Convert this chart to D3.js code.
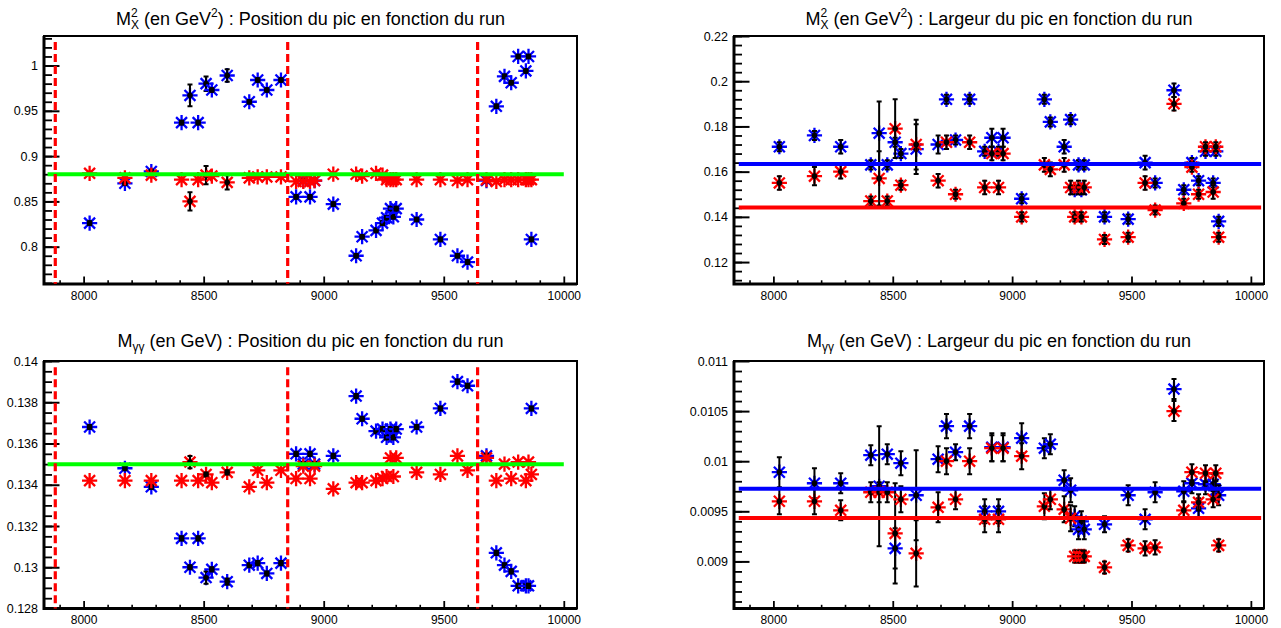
<!DOCTYPE html>
<html>
<head>
<meta charset="utf-8">
<script src="https://cdn.jsdelivr.net/npm/d3@7"></script>
<style>
  body { margin: 0; background: #fff; }
  svg { display: block; }
  text { font-family: "Liberation Sans", Arial, Helvetica, sans-serif; fill: #000; }
</style>
</head>
<body>
<div id="chart"></div>
<script>
// run numbers shared by the four graphs
const runs = [8025, 8172, 8282, 8408, 8443, 8477, 8510, 8534, 8598, 8690,
              8725, 8763, 8822, 8885, 8915, 8943, 8962, 9040, 9135, 9160,
              9218, 9245, 9262, 9278, 9290, 9302, 9387, 9486, 9557, 9599,
              9678, 9719, 9753, 9781, 9810, 9842, 9853, 9865];

// Mx2 : position du pic
const mx2PosBlue = [0.826, 0.870, 0.883, 0.937, 0.967, 0.937, 0.980, 0.973, 0.989, 0.960,
                    0.984, 0.973, 0.984, 0.855, 0.873, 0.855, 0.873, 0.847, 0.790, 0.811,
                    0.818, 0.826, 0.832, 0.842, 0.833, 0.842, 0.830, 0.808, 0.790, 0.783,
                    0.873, 0.955, 0.988, 0.981, 1.010, 0.994, 1.010, 0.808];
const mx2PosBlueErr = [0.002, 0.002, 0.002, 0.002, 0.012, 0.002, 0.008, 0.002, 0.007, 0.002,
                       0.002, 0.002, 0.002, 0.002, 0.002, 0.002, 0.002, 0.002, 0.002, 0.002,
                       0.002, 0.002, 0.002, 0.002, 0.002, 0.002, 0.002, 0.002, 0.002, 0.002,
                       0.002, 0.002, 0.002, 0.002, 0.002, 0.002, 0.002, 0.002];
const mx2PosRed = [0.881, 0.876, 0.879, 0.874, 0.850, 0.874, 0.879, 0.878, 0.871, 0.876,
                   0.877, 0.877, 0.877, 0.872, 0.872, 0.872, 0.873, 0.880, 0.880, 0.878,
                   0.881, 0.879, 0.874, 0.874, 0.874, 0.874, 0.874, 0.874, 0.873, 0.874,
                   0.874, 0.872, 0.874, 0.874, 0.874, 0.874, 0.874, 0.874];
const mx2PosRedErr = [0, 0, 0, 0, 0.010, 0, 0.010, 0, 0.008, 0,
                      0, 0, 0, 0, 0, 0, 0, 0, 0, 0,
                      0, 0, 0, 0, 0, 0, 0, 0, 0, 0,
                      0, 0, 0, 0, 0, 0, 0, 0];

// Mx2 : largeur du pic
const mx2WidBlue = [0.171, 0.176, 0.171, 0.163, 0.177, 0.163, 0.173, 0.168, 0.170, 0.172,
                    0.192, 0.174, 0.192, 0.169, 0.175, 0.169, 0.175, 0.148, 0.192, 0.182,
                    0.171, 0.183, 0.152, 0.163, 0.152, 0.163, 0.140, 0.139, 0.164, 0.155,
                    0.196, 0.152, 0.164, 0.156, 0.169, 0.155, 0.169, 0.138];
const mx2WidBlueErr = [0.002, 0.002, 0.003, 0.002, 0.014, 0.002, 0.002, 0.002, 0.011, 0.004,
                       0.002, 0.002, 0.002, 0.002, 0.004, 0.002, 0.004, 0.002, 0.002, 0.002,
                       0.003, 0.002, 0.002, 0.002, 0.002, 0.002, 0.002, 0.002, 0.003, 0.002,
                       0.003, 0.002, 0.002, 0.002, 0.002, 0.002, 0.002, 0.002];
const mx2WidRed = [0.155, 0.158, 0.160, 0.147, 0.157, 0.147, 0.179, 0.154, 0.172, 0.156,
                   0.173, 0.150, 0.173, 0.153, 0.168, 0.153, 0.168, 0.140, 0.163, 0.161,
                   0.163, 0.153, 0.140, 0.153, 0.140, 0.153, 0.130, 0.131, 0.155, 0.143,
                   0.190, 0.146, 0.162, 0.150, 0.171, 0.151, 0.171, 0.131];
const mx2WidRedErr = [0.003, 0.004, 0.003, 0.002, 0.012, 0.002, 0.013, 0.002, 0.011, 0.003,
                      0.003, 0.002, 0.003, 0.003, 0.003, 0.003, 0.003, 0.002, 0.003, 0.003,
                      0.003, 0.003, 0.002, 0.003, 0.002, 0.003, 0.002, 0.002, 0.003, 0.002,
                      0.003, 0.002, 0.002, 0.002, 0.002, 0.003, 0.002, 0.002];

// Mgg : position du pic
const mggPosBlue = [0.1368, 0.1348, 0.1339, 0.1314, 0.1300, 0.1314, 0.1295, 0.1299, 0.1293, 0.1301,
                    0.1302, 0.1297, 0.1302, 0.1355, 0.1350, 0.1355, 0.1350, 0.1354, 0.1383, 0.1372,
                    0.1366, 0.1367, 0.1363, 0.1367, 0.1363, 0.1367, 0.1368, 0.1377, 0.1390, 0.1388,
                    0.1354, 0.1307, 0.1301, 0.1298, 0.1291, 0.1291, 0.1291, 0.1377];
const mggPosBlueErr = [0.0001, 0.0001, 0.0001, 0.0001, 0.0001, 0.0001, 0.0003, 0.0001, 0.00015, 0.0001,
                       0.0001, 0.0001, 0.0001, 0.0001, 0.0001, 0.0001, 0.0001, 0.0001, 0.0001, 0.0001,
                       0.0001, 0.0001, 0.0001, 0.0001, 0.0001, 0.0001, 0.0001, 0.0001, 0.0001, 0.0001,
                       0.0001, 0.0001, 0.0001, 0.0001, 0.0001, 0.0001, 0.0001, 0.0001];
const mggPosRed = [0.1342, 0.1342, 0.1342, 0.1342, 0.1351, 0.1342, 0.1345, 0.1341, 0.1346, 0.1339,
                   0.1347, 0.1341, 0.1347, 0.1343, 0.1349, 0.1343, 0.1349, 0.1338, 0.1341, 0.1341,
                   0.1342, 0.1343, 0.1344, 0.1353, 0.1344, 0.1353, 0.1346, 0.1345, 0.1354, 0.1347,
                   0.1353, 0.1342, 0.1350, 0.1343, 0.1351, 0.1342, 0.1351, 0.1345];
const mggPosRedErr = [0, 0, 0, 0, 0.0003, 0, 0.0001, 0, 0.0001, 0,
                      0, 0, 0, 0, 0, 0, 0, 0, 0, 0,
                      0, 0, 0, 0, 0, 0, 0, 0, 0, 0,
                      0, 0, 0, 0, 0, 0, 0, 0];

// Mgg : largeur du pic
const mggWidBlue = [0.00989, 0.00978, 0.00978, 0.01006, 0.00975, 0.01007, 0.00913, 0.00998, 0.00966, 0.01002,
                    0.01035, 0.01009, 0.01035, 0.00950, 0.01014, 0.00950, 0.01014, 0.01023, 0.01013, 0.01017,
                    0.00981, 0.00971, 0.00945, 0.00932, 0.00940, 0.00932, 0.00937, 0.00966, 0.00942, 0.00969,
                    0.01072, 0.00970, 0.00978, 0.00953, 0.00977, 0.00977, 0.00971, 0.00966];
const mggWidBlueErr = [0.00015, 0.00015, 0.0001, 0.0001, 0.0006, 0.0001, 0.0002, 0.00012, 0.00045, 0.00013,
                       0.00012, 0.00008, 0.00012, 0.00012, 0.00014, 0.00012, 0.00014, 0.00015, 0.0001, 0.0001,
                       0.0001, 0.00012, 0.0001, 0.0001, 0.0001, 0.0001, 0.00008, 0.0001, 0.0001, 0.0001,
                       0.0001, 0.0001, 0.0001, 0.0001, 0.0001, 0.0001, 0.0001, 0.0001];
const mggWidRed = [0.00960, 0.00960, 0.00951, 0.00969, 0.00969, 0.00969, 0.00928, 0.00962, 0.00908, 0.00954,
                   0.01000, 0.00962, 0.01000, 0.00942, 0.01013, 0.00942, 0.01013, 0.01005, 0.00955, 0.00962,
                   0.00952, 0.00943, 0.00905, 0.00905, 0.00905, 0.00905, 0.00894, 0.00916, 0.00913, 0.00914,
                   0.01050, 0.00951, 0.00989, 0.00959, 0.00988, 0.00962, 0.00988, 0.00916];
const mggWidRedErr = [0.00013, 0.00013, 0.0001, 0.0001, 0.0001, 0.0001, 0.0005, 0.00013, 0.00033, 0.00015,
                      0.00013, 0.0001, 0.00013, 0.00013, 0.00013, 0.00013, 0.00013, 0.00013, 0.00013, 0.0001,
                      0.00013, 0.00013, 0.00006, 0.00006, 0.00006, 0.00006, 0.00006, 0.00006, 0.00007, 0.00007,
                      0.0001, 0.00008, 0.00008, 0.00008, 0.00008, 0.00008, 0.00008, 0.00006];

// reference / fitted levels
const mx2PosRef = 0.88, mggPosRef = 0.135;
const mx2WidFit = [0.1634, 0.1441];      // blue, red
const mggWidFit = [0.009725, 0.009433];  // blue, red
const fitSpanLeft = [7850, 10000];
const fitSpanRight = [7855, 10043];

// run period boundaries (dashed lines)
const cutRuns = [7882, 8850, 9641];
const cutSpanMx2 = [0.759, 1.026];
const cutSpanMgg = [0.128, 0.1397];

// axes
const xDomain = [7835, 10055];
const xTicks = [8000, 8500, 9000, 9500, 10000];
const yTicksMx2Pos = [0.8, 0.85, 0.9, 0.95, 1];
const yTicksMx2Wid = [0.12, 0.14, 0.16, 0.18, 0.2, 0.22];
const yTicksMggPos = [0.128, 0.13, 0.132, 0.134, 0.136, 0.138, 0.14];
const yTicksMggWid = [0.009, 0.0095, 0.01, 0.0105, 0.011];

const BLUE = "#0000ff", RED = "#ff0000", GREEN = "#00ff00";

const svg = d3.select("#chart").append("svg")
    .attr("width", 1281)
    .attr("height", 628);

const panels = [
  { left: 44, right: 577, top: 36, bottom: 284, titleY: 25, yDomain: [0.7588, 1.0326],
    yTicks: yTicksMx2Pos, yMinor: 0.01, title: "mx2", what: "Position",
    blue: mx2PosBlue, blueErr: mx2PosBlueErr, red: mx2PosRed, redErr: mx2PosRedErr,
    fits: [{ v: mx2PosRef, c: GREEN }], fitSpan: fitSpanLeft, cuts: cutSpanMx2 },
  { left: 734, right: 1264, top: 36, bottom: 284, titleY: 25, yDomain: [0.1103, 0.22],
    yTicks: yTicksMx2Wid, yMinor: 0.004, title: "mx2", what: "Largeur",
    blue: mx2WidBlue, blueErr: mx2WidBlueErr, red: mx2WidRed, redErr: mx2WidRedErr,
    fits: [{ v: mx2WidFit[0], c: BLUE }, { v: mx2WidFit[1], c: RED }], fitSpan: fitSpanRight },
  { left: 44, right: 577, top: 361, bottom: 608.5, titleY: 347, yDomain: [0.128, 0.14],
    yTicks: yTicksMggPos, yMinor: 0.0005, title: "mgg", what: "Position",
    blue: mggPosBlue, blueErr: mggPosBlueErr, red: mggPosRed, redErr: mggPosRedErr,
    fits: [{ v: mggPosRef, c: GREEN }], fitSpan: fitSpanLeft, cuts: cutSpanMgg },
  { left: 734, right: 1264, top: 361, bottom: 608.5, titleY: 347, yDomain: [0.00853, 0.011],
    yTicks: yTicksMggWid, yMinor: 0.0001, title: "mgg", what: "Largeur",
    blue: mggWidBlue, blueErr: mggWidBlueErr, red: mggWidRed, redErr: mggWidRedErr,
    fits: [{ v: mggWidFit[0], c: BLUE }, { v: mggWidFit[1], c: RED }], fitSpan: fitSpanRight }
];

// ROOT style "*" marker
function star(r) {
  const d = r * 0.72;
  return `M0,${-r}L0,${r}M${-r},0L${r},0M${-d},${-d}L${d},${d}M${-d},${d}L${d},${-d}`;
}

function drawPanel(p) {
  const g = svg.append("g");
  const x = d3.scaleLinear().domain(xDomain).range([p.left, p.right]);
  const y = d3.scaleLinear().domain(p.yDomain).range([p.bottom, p.top]);

  // title
  const t = g.append("text")
      .attr("x", (p.left + p.right) / 2)
      .attr("y", p.titleY)
      .attr("text-anchor", "middle")
      .style("font-size", "18px")
      .text("M");
  if (p.title === "mx2") {
    t.append("tspan").style("font-size", "12px").attr("dy", -8).text("2");
    t.append("tspan").style("font-size", "12px").attr("dx", -6.7).attr("dy", 12).text("X");
    t.append("tspan").attr("dy", -4).text(" (en GeV");
    t.append("tspan").style("font-size", "12px").attr("dy", -8).text("2");
    t.append("tspan").attr("dy", 8).text(") : " + p.what + " du pic en fonction du run");
  } else {
    t.append("tspan").style("font-size", "12px").attr("dy", 4).text("γγ");
    t.append("tspan").attr("dy", -4).text(" (en GeV) : " + p.what + " du pic en fonction du run");
  }

  // x axis, ticks inside the frame
  const xMinor = d3.range(7900, 10001, 100).filter(v => v % 500 !== 0);
  g.append("g")
      .attr("transform", `translate(0,${p.bottom})`)
      .call(d3.axisBottom(x).tickValues(xMinor).tickSize(-3.7).tickFormat(""))
      .call(a => a.select(".domain").remove())
      .call(a => a.selectAll("line").attr("stroke-width", 1.6));
  g.append("g")
      .attr("transform", `translate(0,${p.bottom})`)
      .call(d3.axisBottom(x).tickValues(xTicks).tickSize(-7.5).tickPadding(7).tickFormat(d3.format("d")))
      .call(a => a.select(".domain").remove())
      .call(a => a.selectAll("line").attr("stroke-width", 1.8))
      .call(a => a.selectAll("text").style("font-size", "12px").attr("font-family", null));

  // y axis, ticks inside the frame
  const lo = p.yDomain[0], hi = p.yDomain[1];
  const yMinor = d3.range(Math.ceil(lo / p.yMinor), Math.floor(hi / p.yMinor) + 1)
      .map(k => +(k * p.yMinor).toPrecision(6));
  g.append("g")
      .attr("transform", `translate(${p.left},0)`)
      .call(d3.axisLeft(y).tickValues(yMinor).tickSize(-8).tickFormat(""))
      .call(a => a.select(".domain").remove())
      .call(a => a.selectAll("line").attr("stroke-width", 1.8));
  g.append("g")
      .attr("transform", `translate(${p.left},0)`)
      .call(d3.axisLeft(y).tickValues(p.yTicks).tickSize(-15.5).tickPadding(6).tickFormat(d3.format("~g")))
      .call(a => a.select(".domain").remove())
      .call(a => a.selectAll("line").attr("stroke-width", 2))
      .call(a => a.selectAll("text").style("font-size", "12.5px").attr("font-family", null));

  // frame
  g.append("rect")
      .attr("x", p.left).attr("y", p.top)
      .attr("width", p.right - p.left).attr("height", p.bottom - p.top)
      .attr("fill", "none").attr("stroke", "#000").attr("stroke-width", 2);
  g.append("path")
      .attr("d", `M${p.left},${p.top}L${p.left},${p.bottom}L${p.right},${p.bottom}`)
      .attr("fill", "none").attr("stroke", "#000").attr("stroke-width", 3);

  // points: coloured star, then black error bar and small black star
  function series(vals, errs, colour) {
    const pts = runs.map((r, i) => ({ r: r, v: vals[i], e: errs[i] }));
    const s = g.append("g");
    const node = s.selectAll("g").data(pts).join("g")
        .attr("transform", d => `translate(${x(d.r)},${y(d.v)})`);
    node.append("path")
        .attr("d", star(7.6))
        .attr("stroke", colour).attr("stroke-width", 2.3).attr("fill", "none");
    const withErr = node.filter(d => d.e > 0);
    withErr.append("path")
        .attr("d", d => {
          const up = y(d.v + d.e) - y(d.v), dn = y(d.v - d.e) - y(d.v);
          return `M0,${up}L0,${dn}M-2.5,${up}L2.5,${up}M-2.5,${dn}L2.5,${dn}`;
        })
        .attr("stroke", "#000").attr("stroke-width", 2).attr("fill", "none");
    withErr.append("path")
        .attr("d", star(2.8))
        .attr("stroke", "#000").attr("stroke-width", 1.8).attr("fill", "none");
  }
  series(p.blue, p.blueErr, BLUE);
  series(p.red, p.redErr, RED);

  // reference / fit lines
  p.fits.forEach(f => {
    g.append("line")
        .attr("x1", x(p.fitSpan[0])).attr("x2", x(p.fitSpan[1]))
        .attr("y1", y(f.v)).attr("y2", y(f.v))
        .attr("stroke", f.c).attr("stroke-width", 4);
  });

  // run period boundaries
  if (p.cuts) {
    g.selectAll(".cut").data(cutRuns).join("line")
        .attr("class", "cut")
        .attr("x1", d => x(d)).attr("x2", d => x(d))
        .attr("y1", y(p.cuts[1])).attr("y2", y(p.cuts[0]))
        .attr("stroke", RED).attr("stroke-width", 3.2)
        .attr("stroke-dasharray", "8,4");
  }
}

panels.forEach(drawPanel);
</script>
</body>
</html>
